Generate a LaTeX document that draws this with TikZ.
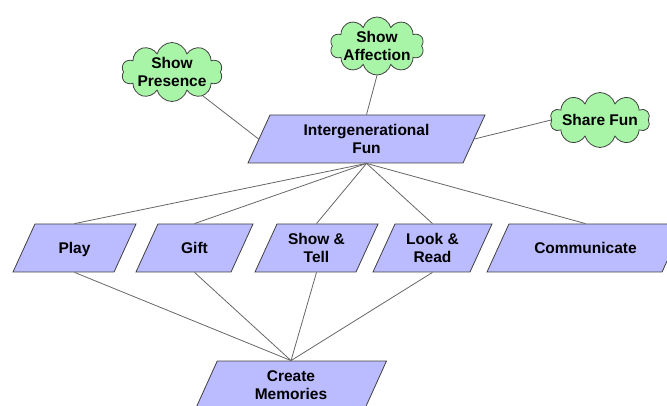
\documentclass[tikz,border=0pt]{standalone}
\usepackage{fontspec}
\setmainfont{Liberation Sans}
\usetikzlibrary{shapes.geometric,shapes.symbols}
\definecolor{boxfill}{RGB}{187,187,255}
\definecolor{cloudfill}{RGB}{168,245,168}
\begin{document}
\begin{tikzpicture}[x=1pt,y=-1pt,
				every node/.style={font=\bfseries\fontsize{15.5}{18.5}\selectfont,align=center,draw=black!75,line width=0.8pt,inner sep=2pt},
				box/.style={trapezium,trapezium left angle=57,trapezium right angle=123,trapezium stretches body,fill=boxfill,minimum height=48pt},
				single/.style={text height=20.5pt,text depth=9.3pt},
				thought/.style={cloud,cloud puffs=10,inner xsep=-14pt,inner ysep=-8pt,fill=cloudfill},
				link/.style={draw=black!60,line width=0.8pt}]
\useasboundingbox (0,0) rectangle (667,406);
\clip (0,0) rectangle (667,406);
\node[box,minimum width=237pt] (fun) at (366.5,139) {Intergenerational\\Fun};
\node[box,single,minimum width=123pt] (play) at (74.5,248) {Play};
\node[box,single,minimum width=117pt] (gift) at (194.5,248) {Gift};
\node[box,minimum width=123pt] (tell) at (316.5,248) {Show \&\\Tell};
\node[box,minimum width=119pt] (read) at (432.5,248) {Look \&\\Read};
\node[box,single,minimum width=197pt] (talk) at (585.5,248) {Communicate};
\node[box,minimum width=191pt] (memo) at (291,385) {Create\\Memories};
\node[thought,aspect=1.7,minimum width=101pt,minimum height=59pt] (presence) at (172,72) {Show\\Presence};
\node[thought,aspect=1.6,minimum width=94pt,minimum height=58pt] (affection) at (377,46) {Show\\Affection};
\node[thought,aspect=1.8,minimum width=100pt,minimum height=55pt] (share) at (600,120) {Share Fun};
\foreach \k in {play,gift,tell,read,talk}
	\draw[link] (fun.south) -- (\k.north);
\foreach \k in {play,gift,tell,read}
	\draw[link] (\k.south) -- (memo.north);
\draw[link] (presence) -- (fun.west);
\draw[link] (affection.south) -- (fun.north);
\draw[link] (fun.east) -- (share.west);
\end{tikzpicture}
\end{document}
